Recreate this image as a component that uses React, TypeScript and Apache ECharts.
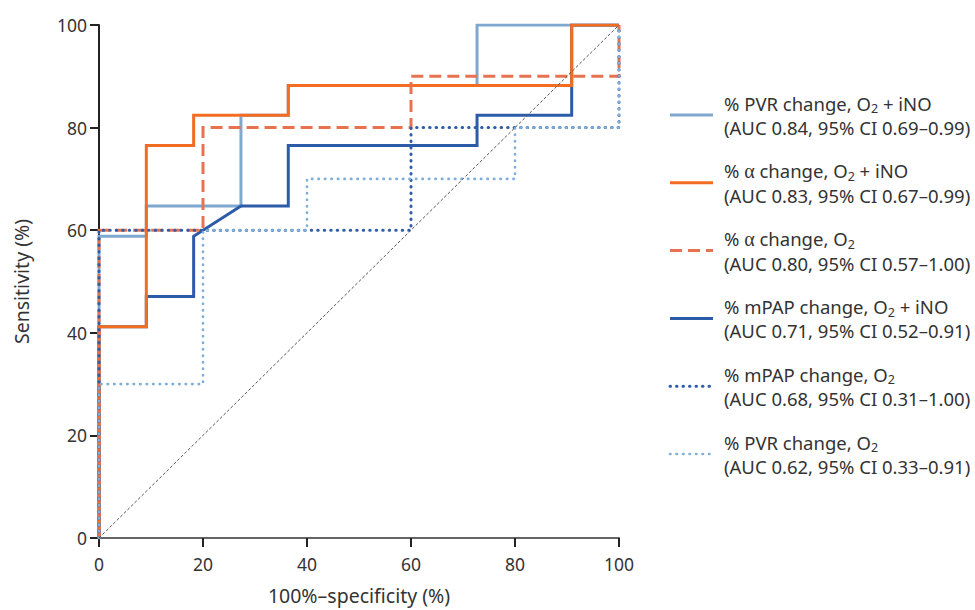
import React, { useEffect, useRef } from "react";
import * as echarts from "echarts";

// ROC curves: x = 100% - specificity, y = sensitivity
const pvrIno_x = [0, 0, 9.1, 9.1, 27.3, 27.3, 36.4, 36.4, 72.7, 72.7, 100];
const pvrIno_y = [0, 58.8, 58.8, 64.7, 64.7, 82.4, 82.4, 88.2, 88.2, 100, 100];

const mpapIno_x = [0, 0, 9.1, 9.1, 18.2, 18.2, 27.3, 36.4, 36.4, 72.7, 72.7, 90.9, 90.9, 100];
const mpapIno_y = [0, 41.2, 41.2, 47.1, 47.1, 58.8, 64.7, 64.7, 76.5, 76.5, 82.4, 82.4, 100, 100];

const alphaIno_x = [0, 0, 9.1, 9.1, 18.2, 18.2, 36.4, 36.4, 90.9, 90.9, 100];
const alphaIno_y = [0, 41.2, 41.2, 76.5, 76.5, 82.4, 82.4, 88.2, 88.2, 100, 100];

const alphaO2_x = [0, 0, 20, 20, 60, 60, 100, 100];
const alphaO2_y = [0, 60, 60, 80, 80, 90, 90, 100];

const mpapO2_x = [0, 0, 60, 60, 100, 100];
const mpapO2_y = [0, 60, 60, 80, 80, 100];

const pvrO2_x = [0, 0, 20, 20, 40, 40, 80, 80, 100, 100];
const pvrO2_y = [0, 30, 30, 60, 60, 70, 70, 80, 80, 100];

const refLine_x = [0, 100];
const refLine_y = [0, 100];

const axisTicks = [0, 20, 40, 60, 80, 100];

const legendLine1 = [
  "% PVR change, O{sub|2} + iNO",
  "% {a|α} change, O{sub|2} + iNO",
  "% {a|α} change, O{sub|2}",
  "% mPAP change, O{sub|2} + iNO",
  "% mPAP change, O{sub|2}",
  "% PVR change, O{sub|2}",
];
const legendLine2 = [
  "(AUC 0.84, 95% CI 0.69–0.99)",
  "(AUC 0.83, 95% CI 0.67–0.99)",
  "(AUC 0.80, 95% CI 0.57–1.00)",
  "(AUC 0.71, 95% CI 0.52–0.91)",
  "(AUC 0.68, 95% CI 0.31–1.00)",
  "(AUC 0.62, 95% CI 0.33–0.91)",
];

const FONT = "Noto Sans";

type Sty = { color: string; width: number; type: any; cap?: string };
const styles: Sty[] = [
  { color: "#7fa8cf", width: 3, type: "solid" },
  { color: "#f26d21", width: 3, type: "solid" },
  { color: "#e8724f", width: 3, type: [12, 6] },
  { color: "#2c5ca8", width: 3, type: "solid" },
  { color: "#2f5ea6", width: 3, type: [0.5, 6], cap: "round" },
  { color: "#80b0da", width: 2.6, type: [0.5, 6], cap: "round" },
];

const zip = (xs: number[], ys: number[]) => xs.map((x, i) => [x, ys[i]]);

export default function App() {
  const ref = useRef<HTMLDivElement>(null);
  useEffect(() => {
    if (!ref.current) return;
    const chart = echarts.init(ref.current, undefined, { renderer: "svg" });
    const mk = (name: string, xs: number[], ys: number[], s: Sty, z: number) => ({
      name,
      type: "line",
      data: zip(xs, ys),
      showSymbol: false,
      symbol: "none",
      z,
      lineStyle: { color: s.color, width: s.width, type: s.type, cap: s.cap || "butt", join: "miter" },
    });
    const series: any[] = [
      mk("pvrIno", pvrIno_x, pvrIno_y, styles[0], 2),
      mk("mpapIno", mpapIno_x, mpapIno_y, styles[3], 3),
      mk("alphaIno", alphaIno_x, alphaIno_y, styles[1], 4),
      mk("alphaO2", alphaO2_x, alphaO2_y, styles[2], 5),
      mk("mpapO2", mpapO2_x, mpapO2_y, styles[4], 6),
      mk("pvrO2", pvrO2_x, pvrO2_y, styles[5], 7),
      {
        name: "ref",
        type: "line",
        data: zip(refLine_x, refLine_y),
        showSymbol: false,
        symbol: "none",
        z: 8,
        lineStyle: { color: "#555", width: 1, type: [3, 2] },
      },
    ];

    const graphics: any[] = [];
    const LH = 24.5;
    const step = 67.8;
    for (let i = 0; i < 6; i++) {
      const c1 = 103 + i * step;
      const top = c1 - LH / 2;
      const iy = c1 + 12;
      const s = styles[i];
      graphics.push({
        type: "line",
        shape: { x1: 670, y1: iy, x2: 713, y2: iy },
        style: {
          stroke: s.color,
          lineWidth: s.width,
          lineDash: s.type === "solid" ? null : s.type,
          lineCap: s.cap || "butt",
        },
      });
      graphics.push({
        type: "text",
        x: 724,
        y: top,
        style: {
          text: legendLine1[i] + "\n" + legendLine2[i],
          fontFamily: FONT,
          fontSize: 18.5,
          lineHeight: LH,
          fill: "#333",
          verticalAlign: "top",
          align: "left",
          rich: {
            sub: { fontSize: 12.5, fontFamily: FONT, fill: "#333", verticalAlign: "bottom", lineHeight: 13 },
            a: { fontSize: 20, fontFamily: "Liberation Serif", fill: "#333" },
          },
        },
      });
    }

    chart.setOption({
      animation: false,
      grid: { left: 99, right: 356, top: 25, bottom: 65, containLabel: false },
      xAxis: {
        type: "value",
        min: 0,
        max: 100,
        interval: 20,
        name: "100%–specificity (%)",
        nameLocation: "middle",
        nameGap: 47,
        nameTextStyle: { fontFamily: FONT, fontSize: 19.5, color: "#333" },
        axisLine: { onZero: false, lineStyle: { color: "#666", width: 2 } },
        axisTick: { show: true, length: 9, lineStyle: { color: "#222", width: 2 } },
        axisLabel: {
          fontFamily: FONT,
          fontSize: 17.5,
          color: "#333",
          margin: 17,
          formatter: (v: number) => (axisTicks.includes(v) ? String(v) : ""),
        },
        splitLine: { show: false },
      },
      yAxis: {
        type: "value",
        min: 0,
        max: 100,
        interval: 20,
        name: "Sensitivity (%)",
        nameLocation: "middle",
        nameGap: 68,
        nameTextStyle: { fontFamily: FONT, fontSize: 19.5, color: "#333" },
        axisLine: { show: true, onZero: false, lineStyle: { color: "#222", width: 2 } },
        axisTick: { show: true, length: 9, lineStyle: { color: "#222", width: 2 } },
        axisLabel: { fontFamily: FONT, fontSize: 17.5, color: "#333", margin: 12 },
        splitLine: { show: false },
      },
      series,
      graphic: graphics,
    });
    return () => chart.dispose();
  }, []);
  return (
    <div
      ref={ref}
      style={{ position: "fixed", left: 0, top: 0, width: 975, height: 610, background: "#fff" }}
    />
  );
}
